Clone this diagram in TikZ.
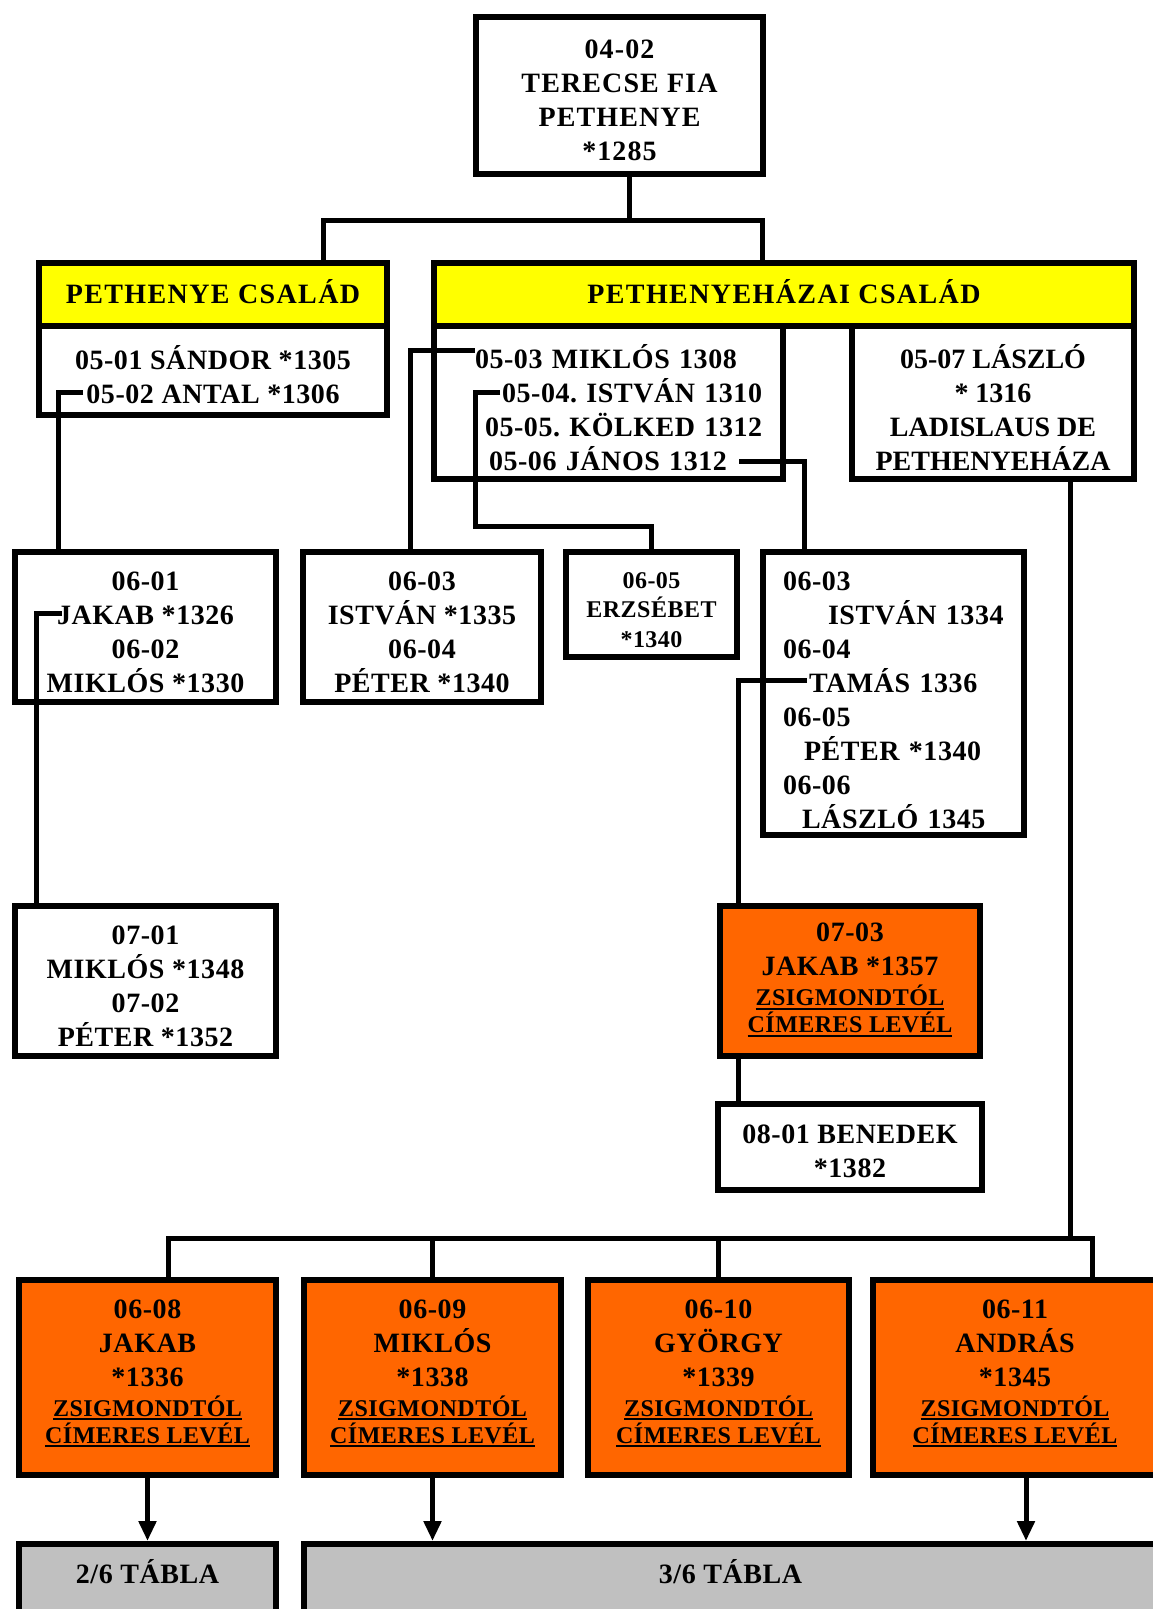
\documentclass[tikz,border=0pt]{standalone}
\usepackage{fontspec}
\setmainfont{Liberation Serif}
\usetikzlibrary{arrows.meta,positioning,calc}
\frenchspacing
\definecolor{famyellow}{RGB}{255,255,0}
\definecolor{cimorange}{RGB}{255,102,0}
\definecolor{tablagray}{RGB}{192,192,192}
\newcommand\bigtxt{\fontsize{28}{34}\selectfont\bfseries\addfontfeatures{LetterSpace=2}}
\newcommand\smalltxt{\fontsize{24}{29.5}\selectfont\bfseries\addfontfeatures{LetterSpace=2}}
\newcommand\sx[1]{\rule{0pt}{#1}}
\newsavebox\ulsave
\newcommand\undl[1]{\sbox\ulsave{#1}\rlap{\rule[-4pt]{\wd\ulsave}{2pt}}\usebox\ulsave}
\newcommand\cimer{{\fontsize{24}{27}\selectfont\undl{ZSIGMONDTÓL}}\\[-7pt]{\fontsize{24}{27}\selectfont\undl{CÍMERES LEVÉL}}}
\tikzset{box/.style={draw, rectangle, line width=6pt, inner sep=0pt, align=center, fill=white, font=\bigtxt}}
\tikzstyle{fam}=[box, fill=famyellow, font=\bigtxt\addfontfeatures{LetterSpace=5}, text depth=6pt]
\tikzstyle{cim}=[box, fill=cimorange, text depth=12pt]
\tikzstyle{tbl}=[box, fill=tablagray, text depth=18pt]
\tikzstyle{ln}=[line width=5pt]

\begin{document}
\begin{tikzpicture}[x=1pt, y=-1pt, >={Triangle[width=17pt,length=20pt]}]
\useasboundingbox (0,0) rectangle (1152,1609);

\node[box, minimum width=287pt, minimum height=157pt, font=\bigtxt\addfontfeatures{LetterSpace=4}] (top) at (619.5,95.5) {\sx{29pt}04-02\\TERECSE FIA\\PETHENYE\\*1285};

\node[fam, minimum width=348pt, minimum height=63pt] (hL) at (213,294.5) {PETHENYE CSALÁD};
\node[box, minimum width=348pt, minimum height=89pt, below=-6pt of hL] (b0501) {\sx{33pt}05-01 SÁNDOR *1305\\05-02 ANTAL *1306};
\node[fam, minimum width=700pt, minimum height=63pt] (hR) at (784,294.5) {PETHENYEHÁZAI CSALÁD};
\node[box, minimum width=349pt, minimum height=153pt, text width=320pt, align=left, anchor=north west] (b0503) at ([yshift=6pt]hR.south west) {\hspace*{26.5pt}\sx{35pt}05-03 MIKLÓS 1308\\\hspace*{53.5pt}05-04. ISTVÁN 1310\\\hspace*{36.5pt}05-05. KÖLKED 1312\\\hspace*{40.5pt}05-06 JÁNOS 1312};
\node[box, minimum width=282pt, minimum height=153pt, anchor=north east, font=\fontsize{28}{34}\selectfont\bfseries] (b0507) at ([yshift=6pt]hR.south east) {\sx{33pt}05-07 LÁSZLÓ\\* 1316\\LADISLAUS DE\\PETHENYEHÁZA};

\node[box, minimum width=261pt, minimum height=150pt] (b0601) at (145.5,627) {\sx{29pt}06-01\\JAKAB *1326\\06-02\\MIKLÓS *1330};
\node[box, minimum width=238pt, minimum height=150pt] (b0603) at (422,627) {\sx{29pt}06-03\\ISTVÁN *1335\\06-04\\PÉTER *1340};
\node[box, minimum width=171pt, minimum height=105pt, font=\smalltxt] (b0605) at (651.5,604.5) {\sx{26.5pt}06-05\\ERZSÉBET\\*1340};
\node[box, minimum width=261pt, minimum height=283pt, text width=221pt, align=left] (b0603x) at (893.5,693.5) {\sx{32pt}06-03\\\hspace*{45pt}ISTVÁN 1334\\06-04\\\hspace*{26pt}TAMÁS 1336\\06-05\\\hspace*{21pt}PÉTER *1340\\06-06\\\hspace*{19pt}LÁSZLÓ 1345};

\node[box, minimum width=261pt, minimum height=150pt] (b0701) at (145.5,981) {\sx{29pt}07-01\\MIKLÓS *1348\\07-02\\PÉTER *1352};
\node[cim, minimum width=260pt, minimum height=150pt, text depth=6pt] (b0703) at (850,981) {07-03\\JAKAB *1357\\[-4pt]\cimer};
\node[box, minimum width=264pt, minimum height=86pt] (b0801) at (850,1147) {\sx{27pt}08-01 BENEDEK\\*1382};

\node[cim, minimum width=257pt, minimum height=195pt] (b0608) at (147.5,1377.5) {06-08\\JAKAB\\*1336\\[-4pt]\cimer};
\node[cim, minimum width=257pt, minimum height=195pt] (b0609) at (432.5,1377.5) {06-09\\MIKLÓS\\*1338\\[-4pt]\cimer};
\node[cim, minimum width=261pt, minimum height=195pt] (b0610) at (718.5,1377.5) {06-10\\GYÖRGY\\*1339\\[-4pt]\cimer};
\node[cim, minimum width=284pt, minimum height=195pt] (b0611) at (1015,1377.5) {06-11\\ANDRÁS\\*1345\\[-4pt]\cimer};

\node[tbl, minimum width=257pt, minimum height=73pt] (t26) at (147.5,1580.5) {2/6 TÁBLA};
\node[tbl, minimum width=853pt, minimum height=73pt] (t36) at (730.5,1580.5) {3/6 TÁBLA};

\coordinate (antal) at (83,392);
\coordinate (jakab) at (62,613);
\coordinate (miklos) at (475,350);
\coordinate (istvan) at (500,392);
\coordinate (janos) at (739,461);
\coordinate (tamas) at (807,680);
\coordinate (busL) at (168,1238);
\coordinate (busR) at (1092,1238);

\draw[ln] ([xshift=10pt]top.south) -- ++(0,43);
\draw[ln] (hL.north -| 323,0) -- (323,220) -- (762,220) -- (hR.north -| 762,0);
\draw[ln] (antal) -| ([xshift=46pt]b0601.north west);
\draw[ln] (jakab) -| ([xshift=24pt]b0701.north west);
\draw[ln] (miklos) -| ([xshift=110pt]b0603.north west);
\draw[ln] (istvan) -- ++(-25,0) |- ([yshift=23pt]b0605.north) -- (b0605.north);
\draw[ln] (janos) -| ([xshift=44pt]b0603x.north west);
\draw[ln] (tamas) -| ([xshift=21pt]b0703.north west);
\draw[ln] ([xshift=21pt]b0703.south west) -- ([xshift=21pt]b0703.south west |- b0801.north);
\draw[ln] ([xshift=77pt]b0507.south) -- ([xshift=77pt]b0507.south |- busR);
\draw[ln] (busL |- b0608.north) -- (busL) -- (busR) -- (busR |- b0611.north);
\draw[ln] (b0609.north) -- (b0609.north |- busL);
\draw[ln] (b0610.north) -- (b0610.north |- busL);

\draw[ln,->] (b0608.south) -- (b0608.south |- t26.north);
\draw[ln,->] (b0609.south) -- (b0609.south |- t36.north);
\draw[ln,->] ([xshift=11pt]b0611.south) -- ([xshift=11pt]b0611.south |- t36.north);
\end{tikzpicture}
\end{document}
